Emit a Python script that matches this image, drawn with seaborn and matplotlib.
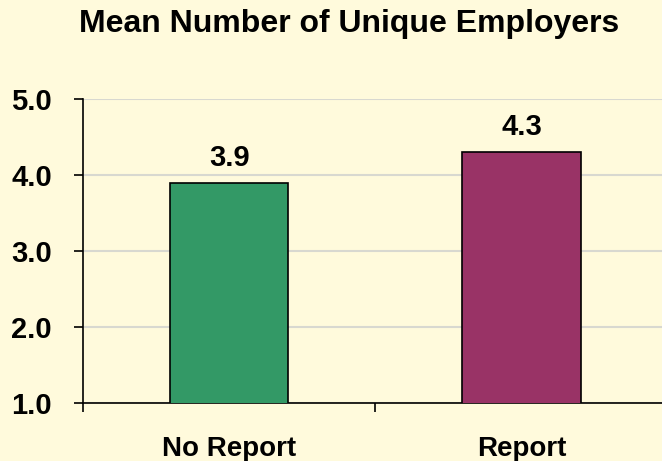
import matplotlib
matplotlib.use('Agg')
import matplotlib.pyplot as plt
import seaborn as sns
import pandas as pd

# dados do gráfico
categorias = ['No Report', 'Report']
valores = [3.9, 4.3]
cores = ['#339966', '#993366']
titulo = 'Mean Number of Unique Employers'
yticks = [1.0, 2.0, 3.0, 4.0, 5.0]

df = pd.DataFrame({'Grupo': categorias, 'Media': valores})

sns.set_style("white")
plt.rcParams['font.family'] = ['Liberation Sans', 'DejaVu Sans']
plt.rcParams['text.color'] = 'black'
plt.rcParams['xtick.color'] = 'black'
plt.rcParams['ytick.color'] = 'black'

bg = '#FFFADC'
fig = plt.figure(figsize=(6.62, 4.61), dpi=100, facecolor=bg)
ax = fig.add_axes([0.1254, 0.1258, 0.883, 0.6594], facecolor=bg)

sns.barplot(data=df, x='Grupo', y='Media', hue='Grupo', palette=cores,
            saturation=1, width=0.405, edgecolor='black', linewidth=1.2,
            legend=False, ax=ax, zorder=3)

ax.set_ylim(1.0, 5.0)
ax.set_xlim(-0.5, 1.5)
ax.set_yticks(yticks)
ax.set_yticklabels([f'{v:.1f}' for v in yticks], fontsize=21, fontweight='bold')
ax.set_xticks([0, 1])
ax.set_xticklabels(categorias, fontsize=20, fontweight='bold')
ax.tick_params(axis='x', length=0, pad=24)
ax.tick_params(axis='y', length=6.5, width=1.2, pad=16, left=True, direction='out')
ax.set_xticks([-0.5, 0.5], minor=True)
ax.tick_params(axis='x', which='minor', length=6.5, width=1.2, direction='out', bottom=True)
ax.yaxis.grid(True, color='#D8D8D0', linewidth=1.5, zorder=0)
ax.set_axisbelow(True)
ax.set_xlabel('')
ax.set_ylabel('')
for s in ['top', 'right']:
    ax.spines[s].set_visible(False)
for s in ['left', 'bottom']:
    ax.spines[s].set_color('black')
    ax.spines[s].set_linewidth(1.2)

for i, v in enumerate(valores):
    ax.text(i, v + 0.225, f'{v:.1f}', ha='center', va='baseline',
            fontsize=21, fontweight='bold')

fig.text(0.528, 0.9306, titulo, ha='center', va='baseline', fontsize=23, fontweight='bold')

plt.savefig('out.png', dpi=100, facecolor=bg)
